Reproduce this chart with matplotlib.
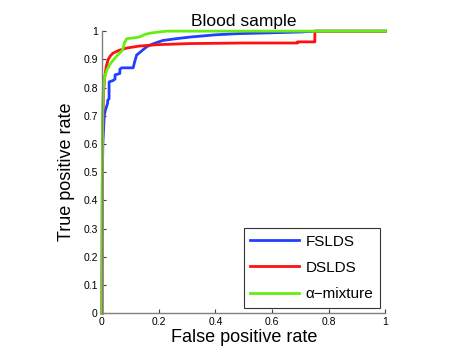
import matplotlib
matplotlib.use("Agg")
import matplotlib.pyplot as plt

plt.rcParams['font.family'] = ['Liberation Sans', 'DejaVu Sans']

title = "Blood sample"
xlabel = "False positive rate"
ylabel = "True positive rate"
series_names = ["FSLDS", "DSLDS", "α−mixture"]

fslds_x = [0, 0.001, 0.003, 0.008, 0.012, 0.02, 0.02, 0.025, 0.025, 0.039, 0.046, 0.046, 0.063, 0.063,
           0.07, 0.07, 0.11, 0.115, 0.122, 0.14, 0.158, 0.18, 0.215, 0.26, 0.31, 0.4, 0.475, 0.55,
           0.628, 0.7, 0.757, 1.0]
fslds_y = [0, 0.45, 0.6, 0.70, 0.72, 0.745, 0.755, 0.76, 0.82, 0.825, 0.83, 0.845, 0.85, 0.865,
           0.87, 0.87, 0.87, 0.89, 0.915, 0.93, 0.945, 0.955, 0.967, 0.973, 0.979, 0.987, 0.991, 0.993,
           0.995, 0.997, 1.0, 1.0]

dslds_x = [0, 0.002, 0.005, 0.01, 0.015, 0.022, 0.03, 0.039, 0.06, 0.087, 0.13, 0.193, 0.31, 0.5,
           0.69, 0.69, 0.751, 0.751, 1.0]
dslds_y = [0, 0.6, 0.78, 0.84, 0.875, 0.9, 0.913, 0.922, 0.932, 0.94, 0.947, 0.952, 0.956, 0.958,
           0.958, 0.962, 0.962, 1.0, 1.0]

mix_x = [0, 0.001, 0.003, 0.005, 0.01, 0.017, 0.028, 0.04, 0.055, 0.069, 0.075, 0.08, 0.087, 0.1,
         0.12, 0.134, 0.15, 0.17, 0.2, 0.228, 0.3, 1.0]
mix_y = [0, 0.5, 0.75, 0.8, 0.84, 0.862, 0.882, 0.898, 0.915, 0.928, 0.94, 0.96, 0.973, 0.975,
         0.977, 0.98, 0.988, 0.993, 0.997, 1.0, 1.0, 1.0]

xticks = [0, 0.2, 0.4, 0.6, 0.8, 1]
yticks = [0, 0.1, 0.2, 0.3, 0.4, 0.5, 0.6, 0.7, 0.8, 0.9, 1]
xticklabels = ["0", "0.2", "0.4", "0.6", "0.8", "1"]
yticklabels = ["0", "0.1", "0.2", "0.3", "0.4", "0.5", "0.6", "0.7", "0.8", "0.9", "1"]

colors = ["#2040ff", "#ff1010", "#66ee11"]

fig = plt.figure(figsize=(4.7, 3.54), dpi=100)
ax = fig.add_axes([0.217, 0.115, 0.603, 0.797])

lw = 2.0
ax.plot(fslds_x, fslds_y, color=colors[0], lw=lw, label=series_names[0], clip_on=False)
ax.plot(dslds_x, dslds_y, color=colors[1], lw=lw, label=series_names[1], clip_on=False)
ax.plot(mix_x, mix_y, color=colors[2], lw=lw, label=series_names[2], clip_on=False)

ax.set_xlim(0, 1)
ax.set_ylim(0, 1)
ax.set_xticks(xticks)
ax.set_xticklabels(xticklabels)
ax.set_yticks(yticks)
ax.set_yticklabels(yticklabels)

for s in ['top', 'right']:
    ax.spines[s].set_visible(False)
for s in ['left', 'bottom']:
    ax.spines[s].set_color('#808080')
    ax.spines[s].set_linewidth(1.0)
ax.tick_params(direction='in', length=3, color='#404040', labelsize=7.5, pad=3)

ax.set_title(title, fontsize=12.5, pad=4)
ax.set_xlabel(xlabel, fontsize=13, labelpad=1)
ax.set_ylabel(ylabel, fontsize=13, labelpad=6)

leg = ax.legend(loc='lower right', fontsize=11, frameon=True, fancybox=False,
                edgecolor='black', handlelength=3.2, handletextpad=0.4,
                borderpad=0.45, labelspacing=0.8, borderaxespad=0.35)
leg.get_frame().set_linewidth(0.8)
leg.set_zorder(5)

fig.savefig("out.png", dpi=100)
